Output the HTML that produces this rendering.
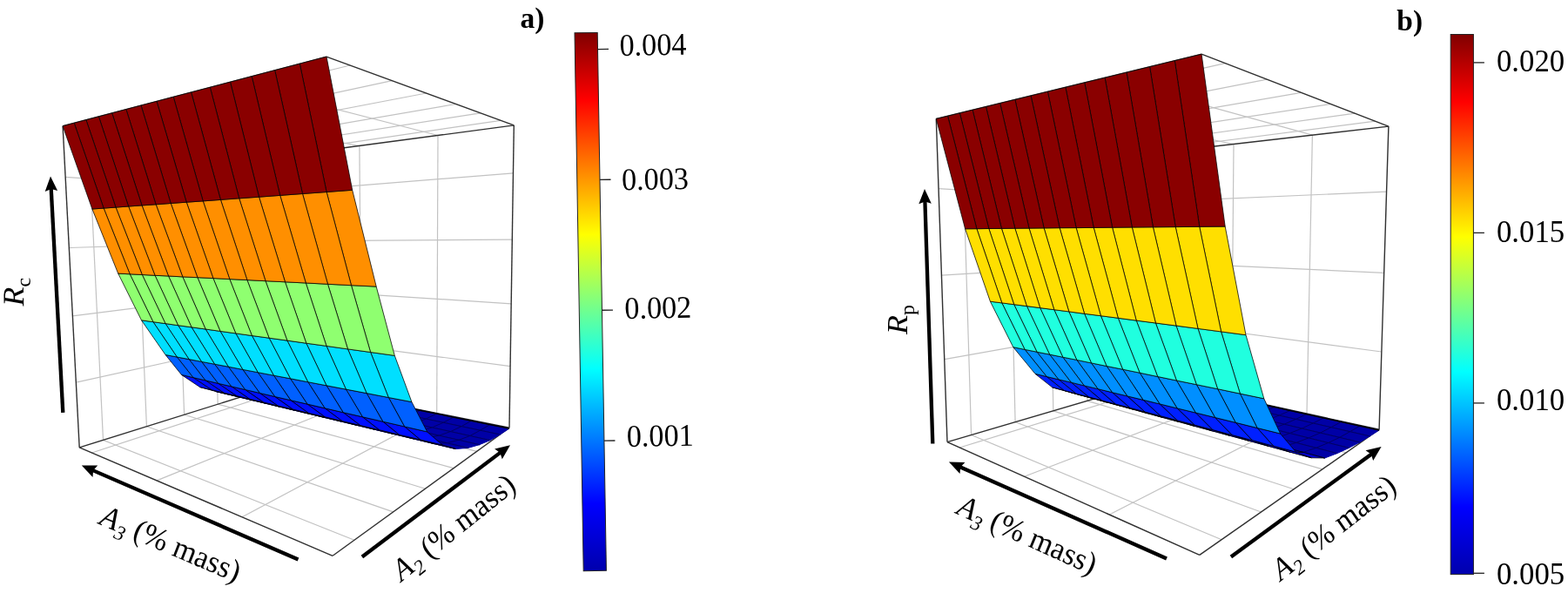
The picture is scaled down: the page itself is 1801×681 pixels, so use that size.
<!DOCTYPE html>
<html><head><meta charset="utf-8"><title>Figure</title>
<style>
html,body{margin:0;padding:0;background:#fff;}
body{width:1801px;height:681px;overflow:hidden;}
svg{display:block;font-family:"Liberation Serif",serif;fill:#000;}
</style></head><body>
<svg width="1801" height="681" viewBox="0 0 1801 681">
<rect width="1801" height="681" fill="#fff"/>
<g>
<line x1="278.1" y1="593.8" x2="501.7" y2="474.5" stroke="#c2c2c2" stroke-width="1.2" />
<line x1="180.0" y1="551.9" x2="415.1" y2="457.0" stroke="#c2c2c2" stroke-width="1.2" />
<line x1="105.4" y1="520.0" x2="343.1" y2="442.5" stroke="#c2c2c2" stroke-width="1.2" />
<line x1="407.0" y1="620.2" x2="118.5" y2="505.4" stroke="#c2c2c2" stroke-width="1.2" />
<line x1="451.6" y1="587.9" x2="168.4" y2="489.8" stroke="#c2c2c2" stroke-width="1.2" />
<line x1="488.5" y1="561.2" x2="211.6" y2="476.3" stroke="#c2c2c2" stroke-width="1.2" />
<line x1="520.9" y1="537.7" x2="250.2" y2="464.2" stroke="#c2c2c2" stroke-width="1.2" />
<line x1="547.7" y1="518.3" x2="284.4" y2="453.5" stroke="#c2c2c2" stroke-width="1.2" />
<line x1="570.1" y1="502.0" x2="315.0" y2="443.9" stroke="#c2c2c2" stroke-width="1.2" />
<line x1="264.7" y1="94.1" x2="503.0" y2="155.5" stroke="#c2c2c2" stroke-width="1.2" />
<line x1="162.7" y1="120.9" x2="412.9" y2="167.5" stroke="#c2c2c2" stroke-width="1.2" />
<line x1="86.4" y1="141.0" x2="338.5" y2="177.4" stroke="#c2c2c2" stroke-width="1.2" />
<line x1="402.1" y1="75.0" x2="101.3" y2="148.8" stroke="#c2c2c2" stroke-width="1.2" />
<line x1="450.3" y1="92.7" x2="154.6" y2="156.1" stroke="#c2c2c2" stroke-width="1.2" />
<line x1="489.5" y1="107.0" x2="200.5" y2="162.4" stroke="#c2c2c2" stroke-width="1.2" />
<line x1="523.7" y1="119.5" x2="241.3" y2="168.0" stroke="#c2c2c2" stroke-width="1.2" />
<line x1="551.7" y1="129.8" x2="277.3" y2="173.0" stroke="#c2c2c2" stroke-width="1.2" />
<line x1="575.0" y1="138.3" x2="309.4" y2="177.4" stroke="#c2c2c2" stroke-width="1.2" />
<line x1="118.5" y1="505.4" x2="101.3" y2="148.8" stroke="#c2c2c2" stroke-width="1.2" />
<line x1="168.4" y1="489.8" x2="154.6" y2="156.1" stroke="#c2c2c2" stroke-width="1.2" />
<line x1="211.6" y1="476.3" x2="200.5" y2="162.4" stroke="#c2c2c2" stroke-width="1.2" />
<line x1="250.2" y1="464.2" x2="241.3" y2="168.0" stroke="#c2c2c2" stroke-width="1.2" />
<line x1="284.4" y1="453.5" x2="277.3" y2="173.0" stroke="#c2c2c2" stroke-width="1.2" />
<line x1="315.0" y1="443.9" x2="309.4" y2="177.4" stroke="#c2c2c2" stroke-width="1.2" />
<line x1="87.4" y1="439.1" x2="327.8" y2="386.2" stroke="#c2c2c2" stroke-width="1.2" />
<line x1="83.4" y1="362.8" x2="326.7" y2="332.1" stroke="#c2c2c2" stroke-width="1.2" />
<line x1="79.3" y1="284.5" x2="325.7" y2="276.9" stroke="#c2c2c2" stroke-width="1.2" />
<line x1="75.1" y1="203.3" x2="324.6" y2="220.1" stroke="#c2c2c2" stroke-width="1.2" />
<line x1="501.7" y1="474.5" x2="503.0" y2="155.5" stroke="#c2c2c2" stroke-width="1.2" />
<line x1="415.1" y1="457.0" x2="412.9" y2="167.5" stroke="#c2c2c2" stroke-width="1.2" />
<line x1="343.1" y1="442.5" x2="338.5" y2="177.4" stroke="#c2c2c2" stroke-width="1.2" />
<line x1="586.1" y1="420.7" x2="327.8" y2="386.2" stroke="#c2c2c2" stroke-width="1.2" />
<line x1="587.2" y1="348.8" x2="326.7" y2="332.1" stroke="#c2c2c2" stroke-width="1.2" />
<line x1="588.3" y1="275.2" x2="325.7" y2="276.9" stroke="#c2c2c2" stroke-width="1.2" />
<line x1="589.5" y1="198.8" x2="324.6" y2="220.1" stroke="#c2c2c2" stroke-width="1.2" />
<line x1="382.1" y1="638.3" x2="91.2" y2="513.9" stroke="#303030" stroke-width="1.4" />
<line x1="382.1" y1="638.3" x2="585.0" y2="491.3" stroke="#303030" stroke-width="1.4" />
<line x1="91.2" y1="513.9" x2="328.8" y2="439.6" stroke="#303030" stroke-width="1.4" />
<line x1="585.0" y1="491.3" x2="328.8" y2="439.6" stroke="#303030" stroke-width="1.4" />
<line x1="375.0" y1="65.1" x2="72.1" y2="144.8" stroke="#303030" stroke-width="1.4" />
<line x1="375.0" y1="65.1" x2="590.3" y2="143.9" stroke="#303030" stroke-width="1.4" />
<line x1="72.1" y1="144.8" x2="323.8" y2="179.3" stroke="#303030" stroke-width="1.4" />
<line x1="590.3" y1="143.9" x2="323.8" y2="179.3" stroke="#303030" stroke-width="1.4" />
<line x1="91.2" y1="513.9" x2="72.1" y2="144.8" stroke="#303030" stroke-width="1.4" />
<line x1="585.0" y1="491.3" x2="590.3" y2="143.9" stroke="#303030" stroke-width="1.4" />
<line x1="328.8" y1="439.6" x2="323.8" y2="179.3" stroke="#303030" stroke-width="1.4" />
<polygon points="574.3,499.0 314.4,444.1 328.8,440.1 585.0,492.0" fill="#0000a6" stroke="#0000a6" stroke-width="1" stroke-linejoin="round"/>
<path d="M551.6,494.2 L562.8,487.5 M529.9,489.7 L541.5,483.2 M509.1,485.3 L521.1,479.0 M489.2,481.0 L501.5,475.1 M470.0,477.0 L482.7,471.3 M451.7,473.1 L464.6,467.6 M434.0,469.4 L447.3,464.1 M417.1,465.8 L430.5,460.7 M400.8,462.3 L414.4,457.4 M385.0,459.0 L398.8,454.3 M369.9,455.8 L383.8,451.2 M355.3,452.7 L369.4,448.3 M341.2,449.7 L355.4,445.5 M327.6,446.9 L341.9,442.7 M314.4,444.1 L328.8,440.1 M574.3,499.0 L314.4,444.1 M585.0,492.0 L328.8,440.1" fill="none" stroke="#00005c" stroke-width="0.9"/>
<line x1="585.0" y1="492.0" x2="438.8" y2="462.4" stroke="#000" stroke-width="1.5" />
<polygon points="562.9,505.6 299.3,447.5 314.4,444.1 574.3,499.0" fill="#0000a6" stroke="#0000a6" stroke-width="1" stroke-linejoin="round"/>
<path d="M539.7,500.5 L551.6,494.2 M517.5,495.6 L529.9,489.7 M496.3,490.9 L509.1,485.3 M476.0,486.4 L489.2,481.0 M456.6,482.1 L470.0,477.0 M437.9,478.0 L451.7,473.1 M420.1,474.1 L434.0,469.4 M402.9,470.3 L417.1,465.8 M386.4,466.7 L400.8,462.3 M370.5,463.2 L385.0,459.0 M355.2,459.8 L369.9,455.8 M340.4,456.6 L355.3,452.7 M326.2,453.4 L341.2,449.7 M312.5,450.4 L327.6,446.9 M299.3,447.5 L314.4,444.1 M562.9,505.6 L299.3,447.5 M574.3,499.0 L314.4,444.1" fill="none" stroke="#00005c" stroke-width="0.9"/>
<polygon points="550.6,510.7 283.3,449.7 299.3,447.5 562.9,505.6" fill="#0000a6" stroke="#0000a6" stroke-width="1" stroke-linejoin="round"/>
<path d="M526.9,505.3 L539.7,500.5 M504.3,500.1 L517.5,495.6 M482.7,495.2 L496.3,490.9 M462.0,490.5 L476.0,486.4 M442.2,486.0 L456.6,482.1 M423.3,481.7 L437.9,478.0 M405.2,477.5 L420.1,474.1 M387.8,473.6 L402.9,470.3 M371.1,469.7 L386.4,466.7 M355.0,466.1 L370.5,463.2 M339.6,462.6 L355.2,459.8 M324.7,459.2 L340.4,456.6 M310.4,455.9 L326.2,453.4 M296.6,452.8 L312.5,450.4 M283.3,449.7 L299.3,447.5 M550.6,510.7 L283.3,449.7 M562.9,505.6 L299.3,447.5" fill="none" stroke="#00005c" stroke-width="0.9"/>
<polygon points="537.5,514.4 266.4,450.7 283.3,449.7 550.6,510.7" fill="#0000a6" stroke="#0000a6" stroke-width="1" stroke-linejoin="round"/>
<path d="M513.2,508.7 L526.9,505.3 M490.1,503.2 L504.3,500.1 M468.1,498.0 L482.7,495.2 M447.0,493.1 L462.0,490.5 M426.9,488.4 L442.2,486.0 M407.7,483.9 L423.3,481.7 M389.3,479.5 L405.2,477.5 M371.7,475.4 L387.8,473.6 M354.8,471.4 L371.1,469.7 M338.6,467.6 L355.0,466.1 M323.0,464.0 L339.6,462.6 M308.1,460.5 L324.7,459.2 M293.7,457.1 L310.4,455.9 M279.8,453.8 L296.6,452.8 M266.4,450.7 L283.3,449.7 M537.5,514.4 L266.4,450.7 M550.6,510.7 L283.3,449.7" fill="none" stroke="#00005c" stroke-width="0.9"/>
<polygon points="523.4,515.5 248.5,449.7 266.4,450.7 537.5,514.4" fill="#0000a6" stroke="#0000a6" stroke-width="1" stroke-linejoin="round"/>
<path d="M498.5,509.6 L513.2,508.7 M474.9,503.9 L490.1,503.2 M452.4,498.5 L468.1,498.0 M431.0,493.4 L447.0,493.1 M410.5,488.5 L426.9,488.4 M391.0,483.8 L407.7,483.9 M372.4,479.4 L389.3,479.5 M354.6,475.1 L371.7,475.4 M337.5,471.0 L354.8,471.4 M321.1,467.1 L338.6,467.6 M305.4,463.3 L323.0,464.0 M290.4,459.7 L308.1,460.5 M275.9,456.2 L293.7,457.1 M262.0,452.9 L279.8,453.8 M248.5,449.7 L266.4,450.7 M523.4,515.5 L248.5,449.7 M537.5,514.4 L266.4,450.7" fill="none" stroke="#00005c" stroke-width="0.9"/>
<polygon points="508.1,511.0 482.6,504.9 498.5,509.6 523.4,515.5" fill="#0000df" stroke="#000" stroke-opacity="0.85" stroke-width="0.9" stroke-linejoin="round"/>
<polygon points="482.6,504.9 458.4,499.2 474.9,503.9 498.5,509.6" fill="#0000df" stroke="#000" stroke-opacity="0.85" stroke-width="0.9" stroke-linejoin="round"/>
<polygon points="458.4,499.2 435.5,493.7 452.4,498.5 474.9,503.9" fill="#0000df" stroke="#000" stroke-opacity="0.85" stroke-width="0.9" stroke-linejoin="round"/>
<polygon points="435.5,493.7 413.7,488.5 431.0,493.4 452.4,498.5" fill="#0000df" stroke="#000" stroke-opacity="0.85" stroke-width="0.9" stroke-linejoin="round"/>
<polygon points="413.7,488.5 392.9,483.5 410.5,488.5 431.0,493.4" fill="#0000df" stroke="#000" stroke-opacity="0.85" stroke-width="0.9" stroke-linejoin="round"/>
<polygon points="392.9,483.5 373.1,478.8 391.0,483.8 410.5,488.5" fill="#0000df" stroke="#000" stroke-opacity="0.85" stroke-width="0.9" stroke-linejoin="round"/>
<polygon points="373.1,478.8 354.2,474.3 372.4,479.4 391.0,483.8" fill="#0000df" stroke="#000" stroke-opacity="0.85" stroke-width="0.9" stroke-linejoin="round"/>
<polygon points="354.2,474.3 336.2,470.0 354.6,475.1 372.4,479.4" fill="#0000df" stroke="#000" stroke-opacity="0.85" stroke-width="0.9" stroke-linejoin="round"/>
<polygon points="336.2,470.0 318.9,465.9 337.5,471.0 354.6,475.1" fill="#0000df" stroke="#000" stroke-opacity="0.85" stroke-width="0.9" stroke-linejoin="round"/>
<polygon points="318.9,465.9 302.4,461.9 321.1,467.1 337.5,471.0" fill="#0000df" stroke="#000" stroke-opacity="0.85" stroke-width="0.9" stroke-linejoin="round"/>
<polygon points="302.4,461.9 286.6,458.2 305.4,463.3 321.1,467.1" fill="#0000df" stroke="#000" stroke-opacity="0.85" stroke-width="0.9" stroke-linejoin="round"/>
<polygon points="286.6,458.2 271.4,454.5 290.4,459.7 305.4,463.3" fill="#0000df" stroke="#000" stroke-opacity="0.85" stroke-width="0.9" stroke-linejoin="round"/>
<polygon points="271.4,454.5 256.9,451.1 275.9,456.2 290.4,459.7" fill="#0000df" stroke="#000" stroke-opacity="0.85" stroke-width="0.9" stroke-linejoin="round"/>
<polygon points="256.9,451.1 242.9,447.7 262.0,452.9 275.9,456.2" fill="#0000df" stroke="#000" stroke-opacity="0.85" stroke-width="0.9" stroke-linejoin="round"/>
<polygon points="242.9,447.7 229.5,444.5 248.5,449.7 262.0,452.9" fill="#0000df" stroke="#000" stroke-opacity="0.85" stroke-width="0.9" stroke-linejoin="round"/>
<polygon points="490.7,495.9 464.6,489.9 482.6,504.9 508.1,511.0" fill="#0010ff" stroke="#000" stroke-opacity="0.85" stroke-width="0.9" stroke-linejoin="round"/>
<polygon points="464.6,489.9 439.8,484.2 458.4,499.2 482.6,504.9" fill="#0010ff" stroke="#000" stroke-opacity="0.85" stroke-width="0.9" stroke-linejoin="round"/>
<polygon points="439.8,484.2 416.4,478.8 435.5,493.7 458.4,499.2" fill="#0010ff" stroke="#000" stroke-opacity="0.85" stroke-width="0.9" stroke-linejoin="round"/>
<polygon points="416.4,478.8 394.2,473.7 413.7,488.5 435.5,493.7" fill="#0010ff" stroke="#000" stroke-opacity="0.85" stroke-width="0.9" stroke-linejoin="round"/>
<polygon points="394.2,473.7 373.1,468.8 392.9,483.5 413.7,488.5" fill="#0010ff" stroke="#000" stroke-opacity="0.85" stroke-width="0.9" stroke-linejoin="round"/>
<polygon points="373.1,468.8 353.0,464.1 373.1,478.8 392.9,483.5" fill="#0010ff" stroke="#000" stroke-opacity="0.85" stroke-width="0.9" stroke-linejoin="round"/>
<polygon points="353.0,464.1 333.9,459.7 354.2,474.3 373.1,478.8" fill="#0010ff" stroke="#000" stroke-opacity="0.85" stroke-width="0.9" stroke-linejoin="round"/>
<polygon points="333.9,459.7 315.7,455.5 336.2,470.0 354.2,474.3" fill="#0010ff" stroke="#000" stroke-opacity="0.85" stroke-width="0.9" stroke-linejoin="round"/>
<polygon points="315.7,455.5 298.3,451.4 318.9,465.9 336.2,470.0" fill="#0010ff" stroke="#000" stroke-opacity="0.85" stroke-width="0.9" stroke-linejoin="round"/>
<polygon points="298.3,451.4 281.6,447.5 302.4,461.9 318.9,465.9" fill="#0010ff" stroke="#000" stroke-opacity="0.85" stroke-width="0.9" stroke-linejoin="round"/>
<polygon points="281.6,447.5 265.7,443.8 286.6,458.2 302.4,461.9" fill="#0010ff" stroke="#000" stroke-opacity="0.85" stroke-width="0.9" stroke-linejoin="round"/>
<polygon points="265.7,443.8 250.5,440.3 271.4,454.5 286.6,458.2" fill="#0010ff" stroke="#000" stroke-opacity="0.85" stroke-width="0.9" stroke-linejoin="round"/>
<polygon points="250.5,440.3 235.9,436.8 256.9,451.1 271.4,454.5" fill="#0010ff" stroke="#000" stroke-opacity="0.85" stroke-width="0.9" stroke-linejoin="round"/>
<polygon points="235.9,436.8 221.9,433.6 242.9,447.7 256.9,451.1" fill="#0010ff" stroke="#000" stroke-opacity="0.85" stroke-width="0.9" stroke-linejoin="round"/>
<polygon points="221.9,433.6 208.5,430.4 229.5,444.5 242.9,447.7" fill="#0010ff" stroke="#000" stroke-opacity="0.85" stroke-width="0.9" stroke-linejoin="round"/>
<polygon points="472.9,461.6 446.3,456.5 464.6,489.9 490.7,495.9" fill="#0060ff" stroke="#000" stroke-opacity="0.85" stroke-width="0.9" stroke-linejoin="round"/>
<polygon points="446.3,456.5 421.1,451.6 439.8,484.2 464.6,489.9" fill="#0060ff" stroke="#000" stroke-opacity="0.85" stroke-width="0.9" stroke-linejoin="round"/>
<polygon points="421.1,451.6 397.4,447.1 416.4,478.8 439.8,484.2" fill="#0060ff" stroke="#000" stroke-opacity="0.85" stroke-width="0.9" stroke-linejoin="round"/>
<polygon points="397.4,447.1 375.0,442.8 394.2,473.7 416.4,478.8" fill="#0060ff" stroke="#000" stroke-opacity="0.85" stroke-width="0.9" stroke-linejoin="round"/>
<polygon points="375.0,442.8 353.7,438.7 373.1,468.8 394.2,473.7" fill="#0060ff" stroke="#000" stroke-opacity="0.85" stroke-width="0.9" stroke-linejoin="round"/>
<polygon points="353.7,438.7 333.5,434.8 353.0,464.1 373.1,468.8" fill="#0060ff" stroke="#000" stroke-opacity="0.85" stroke-width="0.9" stroke-linejoin="round"/>
<polygon points="333.5,434.8 314.4,431.2 333.9,459.7 353.0,464.1" fill="#0060ff" stroke="#000" stroke-opacity="0.85" stroke-width="0.9" stroke-linejoin="round"/>
<polygon points="314.4,431.2 296.2,427.7 315.7,455.5 333.9,459.7" fill="#0060ff" stroke="#000" stroke-opacity="0.85" stroke-width="0.9" stroke-linejoin="round"/>
<polygon points="296.2,427.7 278.8,424.4 298.3,451.4 315.7,455.5" fill="#0060ff" stroke="#000" stroke-opacity="0.85" stroke-width="0.9" stroke-linejoin="round"/>
<polygon points="278.8,424.4 262.3,421.2 281.6,447.5 298.3,451.4" fill="#0060ff" stroke="#000" stroke-opacity="0.85" stroke-width="0.9" stroke-linejoin="round"/>
<polygon points="262.3,421.2 246.5,418.2 265.7,443.8 281.6,447.5" fill="#0060ff" stroke="#000" stroke-opacity="0.85" stroke-width="0.9" stroke-linejoin="round"/>
<polygon points="246.5,418.2 231.5,415.4 250.5,440.3 265.7,443.8" fill="#0060ff" stroke="#000" stroke-opacity="0.85" stroke-width="0.9" stroke-linejoin="round"/>
<polygon points="231.5,415.4 217.1,412.6 235.9,436.8 250.5,440.3" fill="#0060ff" stroke="#000" stroke-opacity="0.85" stroke-width="0.9" stroke-linejoin="round"/>
<polygon points="217.1,412.6 203.3,410.0 221.9,433.6 235.9,436.8" fill="#0060ff" stroke="#000" stroke-opacity="0.85" stroke-width="0.9" stroke-linejoin="round"/>
<polygon points="203.3,410.0 190.1,407.5 208.5,430.4 221.9,433.6" fill="#0060ff" stroke="#000" stroke-opacity="0.85" stroke-width="0.9" stroke-linejoin="round"/>
<polygon points="453.3,408.4 425.6,404.5 446.3,456.5 472.9,461.6" fill="#00dfff" stroke="#000" stroke-opacity="0.85" stroke-width="0.9" stroke-linejoin="round"/>
<polygon points="425.6,404.5 399.5,400.9 421.1,451.6 446.3,456.5" fill="#00dfff" stroke="#000" stroke-opacity="0.85" stroke-width="0.9" stroke-linejoin="round"/>
<polygon points="399.5,400.9 375.0,397.4 397.4,447.1 421.1,451.6" fill="#00dfff" stroke="#000" stroke-opacity="0.85" stroke-width="0.9" stroke-linejoin="round"/>
<polygon points="375.0,397.4 351.8,394.2 375.0,442.8 397.4,447.1" fill="#00dfff" stroke="#000" stroke-opacity="0.85" stroke-width="0.9" stroke-linejoin="round"/>
<polygon points="351.8,394.2 329.9,391.1 353.7,438.7 375.0,442.8" fill="#00dfff" stroke="#000" stroke-opacity="0.85" stroke-width="0.9" stroke-linejoin="round"/>
<polygon points="329.9,391.1 309.1,388.2 333.5,434.8 353.7,438.7" fill="#00dfff" stroke="#000" stroke-opacity="0.85" stroke-width="0.9" stroke-linejoin="round"/>
<polygon points="309.1,388.2 289.4,385.5 314.4,431.2 333.5,434.8" fill="#00dfff" stroke="#000" stroke-opacity="0.85" stroke-width="0.9" stroke-linejoin="round"/>
<polygon points="289.4,385.5 270.8,382.9 296.2,427.7 314.4,431.2" fill="#00dfff" stroke="#000" stroke-opacity="0.85" stroke-width="0.9" stroke-linejoin="round"/>
<polygon points="270.8,382.9 253.0,380.4 278.8,424.4 296.2,427.7" fill="#00dfff" stroke="#000" stroke-opacity="0.85" stroke-width="0.9" stroke-linejoin="round"/>
<polygon points="253.0,380.4 236.1,378.0 262.3,421.2 278.8,424.4" fill="#00dfff" stroke="#000" stroke-opacity="0.85" stroke-width="0.9" stroke-linejoin="round"/>
<polygon points="236.1,378.0 220.0,375.8 246.5,418.2 262.3,421.2" fill="#00dfff" stroke="#000" stroke-opacity="0.85" stroke-width="0.9" stroke-linejoin="round"/>
<polygon points="220.0,375.8 204.6,373.7 231.5,415.4 246.5,418.2" fill="#00dfff" stroke="#000" stroke-opacity="0.85" stroke-width="0.9" stroke-linejoin="round"/>
<polygon points="204.6,373.7 190.0,371.6 217.1,412.6 231.5,415.4" fill="#00dfff" stroke="#000" stroke-opacity="0.85" stroke-width="0.9" stroke-linejoin="round"/>
<polygon points="190.0,371.6 175.9,369.7 203.3,410.0 217.1,412.6" fill="#00dfff" stroke="#000" stroke-opacity="0.85" stroke-width="0.9" stroke-linejoin="round"/>
<polygon points="175.9,369.7 162.5,367.8 190.1,407.5 203.3,410.0" fill="#00dfff" stroke="#000" stroke-opacity="0.85" stroke-width="0.9" stroke-linejoin="round"/>
<polygon points="432.2,329.1 403.5,327.7 425.6,404.5 453.3,408.4" fill="#8fff70" stroke="#000" stroke-opacity="0.85" stroke-width="0.9" stroke-linejoin="round"/>
<polygon points="403.5,327.7 376.5,326.3 399.5,400.9 425.6,404.5" fill="#8fff70" stroke="#000" stroke-opacity="0.85" stroke-width="0.9" stroke-linejoin="round"/>
<polygon points="376.5,326.3 351.3,325.0 375.0,397.4 399.5,400.9" fill="#8fff70" stroke="#000" stroke-opacity="0.85" stroke-width="0.9" stroke-linejoin="round"/>
<polygon points="351.3,325.0 327.5,323.8 351.8,394.2 375.0,397.4" fill="#8fff70" stroke="#000" stroke-opacity="0.85" stroke-width="0.9" stroke-linejoin="round"/>
<polygon points="327.5,323.8 305.0,322.7 329.9,391.1 351.8,394.2" fill="#8fff70" stroke="#000" stroke-opacity="0.85" stroke-width="0.9" stroke-linejoin="round"/>
<polygon points="305.0,322.7 283.9,321.6 309.1,388.2 329.9,391.1" fill="#8fff70" stroke="#000" stroke-opacity="0.85" stroke-width="0.9" stroke-linejoin="round"/>
<polygon points="283.9,321.6 263.8,320.6 289.4,385.5 309.1,388.2" fill="#8fff70" stroke="#000" stroke-opacity="0.85" stroke-width="0.9" stroke-linejoin="round"/>
<polygon points="263.8,320.6 244.9,319.6 270.8,382.9 289.4,385.5" fill="#8fff70" stroke="#000" stroke-opacity="0.85" stroke-width="0.9" stroke-linejoin="round"/>
<polygon points="244.9,319.6 226.9,318.7 253.0,380.4 270.8,382.9" fill="#8fff70" stroke="#000" stroke-opacity="0.85" stroke-width="0.9" stroke-linejoin="round"/>
<polygon points="226.9,318.7 209.8,317.9 236.1,378.0 253.0,380.4" fill="#8fff70" stroke="#000" stroke-opacity="0.85" stroke-width="0.9" stroke-linejoin="round"/>
<polygon points="209.8,317.9 193.5,317.0 220.0,375.8 236.1,378.0" fill="#8fff70" stroke="#000" stroke-opacity="0.85" stroke-width="0.9" stroke-linejoin="round"/>
<polygon points="193.5,317.0 178.0,316.3 204.6,373.7 220.0,375.8" fill="#8fff70" stroke="#000" stroke-opacity="0.85" stroke-width="0.9" stroke-linejoin="round"/>
<polygon points="178.0,316.3 163.3,315.5 190.0,371.6 204.6,373.7" fill="#8fff70" stroke="#000" stroke-opacity="0.85" stroke-width="0.9" stroke-linejoin="round"/>
<polygon points="163.3,315.5 149.2,314.8 175.9,369.7 190.0,371.6" fill="#8fff70" stroke="#000" stroke-opacity="0.85" stroke-width="0.9" stroke-linejoin="round"/>
<polygon points="149.2,314.8 135.7,314.1 162.5,367.8 175.9,369.7" fill="#8fff70" stroke="#000" stroke-opacity="0.85" stroke-width="0.9" stroke-linejoin="round"/>
<polygon points="404.7,218.3 375.1,220.5 403.5,327.7 432.2,329.1" fill="#ff8f00" stroke="#000" stroke-opacity="0.85" stroke-width="0.9" stroke-linejoin="round"/>
<polygon points="375.1,220.5 347.5,222.5 376.5,326.3 403.5,327.7" fill="#ff8f00" stroke="#000" stroke-opacity="0.85" stroke-width="0.9" stroke-linejoin="round"/>
<polygon points="347.5,222.5 321.7,224.4 351.3,325.0 376.5,326.3" fill="#ff8f00" stroke="#000" stroke-opacity="0.85" stroke-width="0.9" stroke-linejoin="round"/>
<polygon points="321.7,224.4 297.5,226.2 327.5,323.8 351.3,325.0" fill="#ff8f00" stroke="#000" stroke-opacity="0.85" stroke-width="0.9" stroke-linejoin="round"/>
<polygon points="297.5,226.2 274.7,227.8 305.0,322.7 327.5,323.8" fill="#ff8f00" stroke="#000" stroke-opacity="0.85" stroke-width="0.9" stroke-linejoin="round"/>
<polygon points="274.7,227.8 253.4,229.4 283.9,321.6 305.0,322.7" fill="#ff8f00" stroke="#000" stroke-opacity="0.85" stroke-width="0.9" stroke-linejoin="round"/>
<polygon points="253.4,229.4 233.2,230.9 263.8,320.6 283.9,321.6" fill="#ff8f00" stroke="#000" stroke-opacity="0.85" stroke-width="0.9" stroke-linejoin="round"/>
<polygon points="233.2,230.9 214.2,232.2 244.9,319.6 263.8,320.6" fill="#ff8f00" stroke="#000" stroke-opacity="0.85" stroke-width="0.9" stroke-linejoin="round"/>
<polygon points="214.2,232.2 196.2,233.5 226.9,318.7 244.9,319.6" fill="#ff8f00" stroke="#000" stroke-opacity="0.85" stroke-width="0.9" stroke-linejoin="round"/>
<polygon points="196.2,233.5 179.1,234.8 209.8,317.9 226.9,318.7" fill="#ff8f00" stroke="#000" stroke-opacity="0.85" stroke-width="0.9" stroke-linejoin="round"/>
<polygon points="179.1,234.8 163.0,235.9 193.5,317.0 209.8,317.9" fill="#ff8f00" stroke="#000" stroke-opacity="0.85" stroke-width="0.9" stroke-linejoin="round"/>
<polygon points="163.0,235.9 147.6,237.0 178.0,316.3 193.5,317.0" fill="#ff8f00" stroke="#000" stroke-opacity="0.85" stroke-width="0.9" stroke-linejoin="round"/>
<polygon points="147.6,237.0 133.0,238.1 163.3,315.5 178.0,316.3" fill="#ff8f00" stroke="#000" stroke-opacity="0.85" stroke-width="0.9" stroke-linejoin="round"/>
<polygon points="133.0,238.1 119.1,239.1 149.2,314.8 163.3,315.5" fill="#ff8f00" stroke="#000" stroke-opacity="0.85" stroke-width="0.9" stroke-linejoin="round"/>
<polygon points="119.1,239.1 105.9,240.0 135.7,314.1 149.2,314.8" fill="#ff8f00" stroke="#000" stroke-opacity="0.85" stroke-width="0.9" stroke-linejoin="round"/>
<polygon points="375.0,65.1 344.3,73.2 375.1,220.5 404.7,218.3" fill="#8a0000" stroke="#000" stroke-opacity="0.85" stroke-width="0.9" stroke-linejoin="round"/>
<polygon points="344.3,73.2 315.7,80.7 347.5,222.5 375.1,220.5" fill="#8a0000" stroke="#000" stroke-opacity="0.85" stroke-width="0.9" stroke-linejoin="round"/>
<polygon points="315.7,80.7 289.2,87.7 321.7,224.4 347.5,222.5" fill="#8a0000" stroke="#000" stroke-opacity="0.85" stroke-width="0.9" stroke-linejoin="round"/>
<polygon points="289.2,87.7 264.5,94.2 297.5,226.2 321.7,224.4" fill="#8a0000" stroke="#000" stroke-opacity="0.85" stroke-width="0.9" stroke-linejoin="round"/>
<polygon points="264.5,94.2 241.3,100.3 274.7,227.8 297.5,226.2" fill="#8a0000" stroke="#000" stroke-opacity="0.85" stroke-width="0.9" stroke-linejoin="round"/>
<polygon points="241.3,100.3 219.6,106.0 253.4,229.4 274.7,227.8" fill="#8a0000" stroke="#000" stroke-opacity="0.85" stroke-width="0.9" stroke-linejoin="round"/>
<polygon points="219.6,106.0 199.2,111.3 233.2,230.9 253.4,229.4" fill="#8a0000" stroke="#000" stroke-opacity="0.85" stroke-width="0.9" stroke-linejoin="round"/>
<polygon points="199.2,111.3 180.0,116.4 214.2,232.2 233.2,230.9" fill="#8a0000" stroke="#000" stroke-opacity="0.85" stroke-width="0.9" stroke-linejoin="round"/>
<polygon points="180.0,116.4 162.0,121.1 196.2,233.5 214.2,232.2" fill="#8a0000" stroke="#000" stroke-opacity="0.85" stroke-width="0.9" stroke-linejoin="round"/>
<polygon points="162.0,121.1 144.9,125.6 179.1,234.8 196.2,233.5" fill="#8a0000" stroke="#000" stroke-opacity="0.85" stroke-width="0.9" stroke-linejoin="round"/>
<polygon points="144.9,125.6 128.7,129.9 163.0,235.9 179.1,234.8" fill="#8a0000" stroke="#000" stroke-opacity="0.85" stroke-width="0.9" stroke-linejoin="round"/>
<polygon points="128.7,129.9 113.4,133.9 147.6,237.0 163.0,235.9" fill="#8a0000" stroke="#000" stroke-opacity="0.85" stroke-width="0.9" stroke-linejoin="round"/>
<polygon points="113.4,133.9 98.9,137.7 133.0,238.1 147.6,237.0" fill="#8a0000" stroke="#000" stroke-opacity="0.85" stroke-width="0.9" stroke-linejoin="round"/>
<polygon points="98.9,137.7 85.2,141.3 119.1,239.1 133.0,238.1" fill="#8a0000" stroke="#000" stroke-opacity="0.85" stroke-width="0.9" stroke-linejoin="round"/>
<polygon points="85.2,141.3 72.1,144.8 105.9,240.0 119.1,239.1" fill="#8a0000" stroke="#000" stroke-opacity="0.85" stroke-width="0.9" stroke-linejoin="round"/>
</g>
<g transform="rotate(-0.945) translate(-1006.5 8.5)">
<linearGradient id="cbL" x1="0" y1="1" x2="0" y2="0">
<stop offset="0.000" stop-color="#0000ad"/>
<stop offset="0.125" stop-color="#0000ff"/>
<stop offset="0.375" stop-color="#00ffff"/>
<stop offset="0.625" stop-color="#ffff00"/>
<stop offset="0.875" stop-color="#ff0000"/>
<stop offset="1.000" stop-color="#800000"/>
</linearGradient>
<rect x="1665.8" y="40.2" width="26.2" height="618.0" fill="url(#cbL)" stroke="#222" stroke-width="1"/>
<line x1="1692.0" y1="59.4" x2="1704.5" y2="59.4" stroke="#222" stroke-width="1.3" />
<text transform="translate(1717.0 67.2) scale(0.95 1)" font-size="36">0.004</text>
<line x1="1692.0" y1="209.3" x2="1704.5" y2="209.3" stroke="#222" stroke-width="1.3" />
<text transform="translate(1717.0 221.5) scale(0.95 1)" font-size="36">0.003</text>
<line x1="1692.0" y1="359.1" x2="1704.5" y2="359.1" stroke="#222" stroke-width="1.3" />
<text transform="translate(1717.9 369.2) scale(0.95 1)" font-size="36">0.002</text>
<line x1="1692.0" y1="509.1" x2="1704.5" y2="509.1" stroke="#222" stroke-width="1.3" />
<text transform="translate(1717.9 516.2) scale(0.95 1)" font-size="36">0.001</text>
</g>
<line x1="72.3" y1="473.8" x2="58.7" y2="216.5" stroke="#000" stroke-width="4.3" />
<polygon points="58.0,202.5 66.1,219.1 58.8,217.0 51.7,219.9" fill="#000"/>
<line x1="342.5" y1="642.5" x2="106.6" y2="540.1" stroke="#000" stroke-width="4.3" />
<polygon points="93.8,534.5 112.2,534.6 107.1,540.3 106.5,547.9" fill="#000"/>
<line x1="415.9" y1="639.5" x2="574.8" y2="519.6" stroke="#000" stroke-width="4.3" />
<polygon points="586.0,511.2 576.8,527.2 574.4,519.9 568.1,515.6" fill="#000"/>
<text transform="translate(27.3 351.5) scale(0.96 1) rotate(-90.90)" font-size="36"><tspan font-style="italic">R</tspan><tspan font-size="24" dy="8">c</tspan><tspan dy="-8"></tspan></text>
<text transform="translate(112.8 601.5) scale(0.96 1) rotate(22.30)" font-size="36"><tspan font-style="italic">A</tspan><tspan font-size="24" dy="8" font-style="italic">3</tspan><tspan dy="-8"> (% mass)</tspan></text>
<text transform="translate(461.0 668.5) scale(0.94 1) rotate(-37.10)" font-size="36"><tspan font-style="italic">A</tspan><tspan font-size="24" dy="8" font-style="italic">2</tspan><tspan dy="-8"> (% mass)</tspan></text>
<text x="597.6" y="31.9" font-size="33.5" font-weight="bold">a)</text>
<g>
<line x1="1274.2" y1="591.0" x2="1501.0" y2="475.0" stroke="#c2c2c2" stroke-width="1.2" />
<line x1="1176.5" y1="547.3" x2="1414.5" y2="456.0" stroke="#c2c2c2" stroke-width="1.2" />
<line x1="1102.2" y1="514.0" x2="1342.5" y2="440.2" stroke="#c2c2c2" stroke-width="1.2" />
<line x1="1403.2" y1="619.7" x2="1115.6" y2="499.5" stroke="#c2c2c2" stroke-width="1.2" />
<line x1="1448.5" y1="588.0" x2="1166.1" y2="484.7" stroke="#c2c2c2" stroke-width="1.2" />
<line x1="1486.0" y1="561.8" x2="1209.8" y2="471.9" stroke="#c2c2c2" stroke-width="1.2" />
<line x1="1519.0" y1="538.8" x2="1248.8" y2="460.4" stroke="#c2c2c2" stroke-width="1.2" />
<line x1="1546.2" y1="519.8" x2="1283.4" y2="450.2" stroke="#c2c2c2" stroke-width="1.2" />
<line x1="1569.1" y1="503.8" x2="1314.3" y2="441.1" stroke="#c2c2c2" stroke-width="1.2" />
<line x1="1269.3" y1="89.2" x2="1507.4" y2="155.1" stroke="#c2c2c2" stroke-width="1.2" />
<line x1="1166.7" y1="114.2" x2="1417.0" y2="165.5" stroke="#c2c2c2" stroke-width="1.2" />
<line x1="1089.8" y1="132.9" x2="1342.4" y2="174.1" stroke="#c2c2c2" stroke-width="1.2" />
<line x1="1407.2" y1="72.7" x2="1104.7" y2="141.0" stroke="#c2c2c2" stroke-width="1.2" />
<line x1="1455.2" y1="91.2" x2="1158.1" y2="149.4" stroke="#c2c2c2" stroke-width="1.2" />
<line x1="1494.4" y1="106.3" x2="1204.1" y2="156.5" stroke="#c2c2c2" stroke-width="1.2" />
<line x1="1528.5" y1="119.5" x2="1245.0" y2="162.9" stroke="#c2c2c2" stroke-width="1.2" />
<line x1="1556.4" y1="130.2" x2="1281.0" y2="168.5" stroke="#c2c2c2" stroke-width="1.2" />
<line x1="1579.7" y1="139.2" x2="1313.1" y2="173.5" stroke="#c2c2c2" stroke-width="1.2" />
<line x1="1115.6" y1="499.5" x2="1104.7" y2="141.0" stroke="#c2c2c2" stroke-width="1.2" />
<line x1="1166.1" y1="484.7" x2="1158.1" y2="149.4" stroke="#c2c2c2" stroke-width="1.2" />
<line x1="1209.8" y1="471.9" x2="1204.1" y2="156.5" stroke="#c2c2c2" stroke-width="1.2" />
<line x1="1248.8" y1="460.4" x2="1245.0" y2="162.9" stroke="#c2c2c2" stroke-width="1.2" />
<line x1="1283.4" y1="450.2" x2="1281.0" y2="168.5" stroke="#c2c2c2" stroke-width="1.2" />
<line x1="1314.3" y1="441.1" x2="1313.1" y2="173.5" stroke="#c2c2c2" stroke-width="1.2" />
<line x1="1084.8" y1="412.7" x2="1328.0" y2="369.5" stroke="#c2c2c2" stroke-width="1.2" />
<line x1="1081.5" y1="316.1" x2="1327.9" y2="301.3" stroke="#c2c2c2" stroke-width="1.2" />
<line x1="1078.1" y1="216.6" x2="1327.7" y2="231.6" stroke="#c2c2c2" stroke-width="1.2" />
<line x1="1501.0" y1="475.0" x2="1507.4" y2="155.1" stroke="#c2c2c2" stroke-width="1.2" />
<line x1="1414.5" y1="456.0" x2="1417.0" y2="165.5" stroke="#c2c2c2" stroke-width="1.2" />
<line x1="1342.5" y1="440.2" x2="1342.4" y2="174.1" stroke="#c2c2c2" stroke-width="1.2" />
<line x1="1586.9" y1="404.0" x2="1328.0" y2="369.5" stroke="#c2c2c2" stroke-width="1.2" />
<line x1="1589.7" y1="313.3" x2="1327.9" y2="301.3" stroke="#c2c2c2" stroke-width="1.2" />
<line x1="1592.6" y1="220.1" x2="1327.7" y2="231.6" stroke="#c2c2c2" stroke-width="1.2" />
<line x1="1377.8" y1="637.4" x2="1088.0" y2="507.6" stroke="#303030" stroke-width="1.4" />
<line x1="1377.8" y1="637.4" x2="1584.1" y2="493.3" stroke="#303030" stroke-width="1.4" />
<line x1="1088.0" y1="507.6" x2="1328.2" y2="437.1" stroke="#303030" stroke-width="1.4" />
<line x1="1584.1" y1="493.3" x2="1328.2" y2="437.1" stroke="#303030" stroke-width="1.4" />
<line x1="1380.1" y1="62.2" x2="1075.3" y2="136.5" stroke="#303030" stroke-width="1.4" />
<line x1="1380.1" y1="62.2" x2="1594.9" y2="145.1" stroke="#303030" stroke-width="1.4" />
<line x1="1075.3" y1="136.5" x2="1327.6" y2="175.8" stroke="#303030" stroke-width="1.4" />
<line x1="1594.9" y1="145.1" x2="1327.6" y2="175.8" stroke="#303030" stroke-width="1.4" />
<line x1="1088.0" y1="507.6" x2="1075.3" y2="136.5" stroke="#303030" stroke-width="1.4" />
<line x1="1584.1" y1="493.3" x2="1594.9" y2="145.1" stroke="#303030" stroke-width="1.4" />
<line x1="1328.2" y1="437.1" x2="1327.6" y2="175.8" stroke="#303030" stroke-width="1.4" />
<polygon points="1573.2,500.9 1313.7,441.3 1328.2,437.6 1584.1,494.0" fill="#0000a6" stroke="#0000a6" stroke-width="1" stroke-linejoin="round"/>
<path d="M1550.6,495.7 L1561.9,489.1 M1528.9,490.7 L1540.7,484.4 M1508.2,486.0 L1520.3,479.9 M1488.3,481.4 L1500.8,475.6 M1469.2,477.0 L1482.0,471.5 M1450.9,472.8 L1464.0,467.5 M1433.2,468.8 L1446.6,463.7 M1416.3,464.9 L1429.9,460.0 M1400.0,461.1 L1413.8,456.4 M1384.3,457.5 L1398.2,453.0 M1369.1,454.0 L1383.2,449.7 M1354.5,450.7 L1368.8,446.5 M1340.5,447.5 L1354.8,443.4 M1326.8,444.3 L1341.3,440.4 M1313.7,441.3 L1328.2,437.6 M1573.2,500.9 L1313.7,441.3 M1584.1,494.0 L1328.2,437.6" fill="none" stroke="#00005c" stroke-width="0.9"/>
<line x1="1584.1" y1="494.0" x2="1438.2" y2="461.8" stroke="#000" stroke-width="1.5" />
<polygon points="1561.7,507.9 1298.4,445.0 1313.7,441.3 1573.2,500.9" fill="#0000a6" stroke="#0000a6" stroke-width="1" stroke-linejoin="round"/>
<path d="M1538.5,502.4 L1550.6,495.7 M1516.4,497.1 L1528.9,490.7 M1495.2,492.1 L1508.2,486.0 M1475.0,487.2 L1488.3,481.4 M1455.6,482.6 L1469.2,477.0 M1437.0,478.1 L1450.9,472.8 M1419.1,473.9 L1433.2,468.8 M1401.9,469.8 L1416.3,464.9 M1385.4,465.8 L1400.0,461.1 M1369.6,462.0 L1384.3,457.5 M1354.3,458.4 L1369.1,454.0 M1339.6,454.8 L1354.5,450.7 M1325.4,451.4 L1340.5,447.5 M1311.7,448.2 L1326.8,444.3 M1298.4,445.0 L1313.7,441.3 M1561.7,507.9 L1298.4,445.0 M1573.2,500.9 L1313.7,441.3" fill="none" stroke="#00005c" stroke-width="0.9"/>
<polygon points="1549.3,514.4 1282.4,448.1 1298.4,445.0 1561.7,507.9" fill="#0000a6" stroke="#0000a6" stroke-width="1" stroke-linejoin="round"/>
<path d="M1525.6,508.5 L1538.5,502.4 M1503.0,502.9 L1516.4,497.1 M1481.4,497.5 L1495.2,492.1 M1460.8,492.4 L1475.0,487.2 M1441.1,487.5 L1455.6,482.6 M1422.2,482.8 L1437.0,478.1 M1404.1,478.3 L1419.1,473.9 M1386.7,474.0 L1401.9,469.8 M1370.0,469.9 L1385.4,465.8 M1354.0,465.9 L1369.6,462.0 M1338.6,462.0 L1354.3,458.4 M1323.7,458.4 L1339.6,454.8 M1309.4,454.8 L1325.4,451.4 M1295.6,451.4 L1311.7,448.2 M1282.4,448.1 L1298.4,445.0 M1549.3,514.4 L1282.4,448.1 M1561.7,507.9 L1298.4,445.0" fill="none" stroke="#00005c" stroke-width="0.9"/>
<polygon points="1535.9,520.6 1265.4,450.7 1282.4,448.1 1549.3,514.4" fill="#0000a6" stroke="#0000a6" stroke-width="1" stroke-linejoin="round"/>
<path d="M1511.7,514.3 L1525.6,508.5 M1488.7,508.4 L1503.0,502.9 M1466.7,502.7 L1481.4,497.5 M1445.7,497.3 L1460.8,492.4 M1425.7,492.1 L1441.1,487.5 M1406.5,487.2 L1422.2,482.8 M1388.1,482.4 L1404.1,478.3 M1370.5,477.9 L1386.7,474.0 M1353.7,473.5 L1370.0,469.9 M1337.5,469.4 L1354.0,465.9 M1321.9,465.3 L1338.6,462.0 M1307.0,461.5 L1323.7,458.4 M1292.6,457.8 L1309.4,454.8 M1278.7,454.2 L1295.6,451.4 M1265.4,450.7 L1282.4,448.1 M1535.9,520.6 L1265.4,450.7 M1549.3,514.4 L1282.4,448.1" fill="none" stroke="#00005c" stroke-width="0.9"/>
<polygon points="1521.6,526.0 1247.5,452.7 1265.4,450.7 1535.9,520.6" fill="#0000a6" stroke="#0000a6" stroke-width="1" stroke-linejoin="round"/>
<path d="M1496.8,519.4 L1511.7,514.3 M1473.3,513.1 L1488.7,508.4 M1450.9,507.1 L1466.7,502.7 M1429.5,501.4 L1445.7,497.3 M1409.2,496.0 L1425.7,492.1 M1389.7,490.8 L1406.5,487.2 M1371.1,485.8 L1388.1,482.4 M1353.3,481.0 L1370.5,477.9 M1336.3,476.5 L1353.7,473.5 M1320.0,472.1 L1337.5,469.4 M1304.3,467.9 L1321.9,465.3 M1289.2,463.9 L1307.0,461.5 M1274.8,460.0 L1292.6,457.8 M1260.9,456.3 L1278.7,454.2 M1247.5,452.7 L1265.4,450.7 M1521.6,526.0 L1247.5,452.7 M1535.9,520.6 L1265.4,450.7" fill="none" stroke="#00005c" stroke-width="0.9"/>
<polygon points="1506.3,525.8 1480.9,518.9 1496.8,519.4 1521.6,526.0" fill="#0000cf" stroke="#000" stroke-opacity="0.85" stroke-width="0.9" stroke-linejoin="round"/>
<polygon points="1480.9,518.9 1456.8,512.3 1473.3,513.1 1496.8,519.4" fill="#0000cf" stroke="#000" stroke-opacity="0.85" stroke-width="0.9" stroke-linejoin="round"/>
<polygon points="1456.8,512.3 1434.0,506.1 1450.9,507.1 1473.3,513.1" fill="#0000cf" stroke="#000" stroke-opacity="0.85" stroke-width="0.9" stroke-linejoin="round"/>
<polygon points="1434.0,506.1 1412.2,500.2 1429.5,501.4 1450.9,507.1" fill="#0000cf" stroke="#000" stroke-opacity="0.85" stroke-width="0.9" stroke-linejoin="round"/>
<polygon points="1412.2,500.2 1391.5,494.6 1409.2,496.0 1429.5,501.4" fill="#0000cf" stroke="#000" stroke-opacity="0.85" stroke-width="0.9" stroke-linejoin="round"/>
<polygon points="1391.5,494.6 1371.8,489.3 1389.7,490.8 1409.2,496.0" fill="#0000cf" stroke="#000" stroke-opacity="0.85" stroke-width="0.9" stroke-linejoin="round"/>
<polygon points="1371.8,489.3 1352.9,484.1 1371.1,485.8 1389.7,490.8" fill="#0000cf" stroke="#000" stroke-opacity="0.85" stroke-width="0.9" stroke-linejoin="round"/>
<polygon points="1352.9,484.1 1334.9,479.3 1353.3,481.0 1371.1,485.8" fill="#0000cf" stroke="#000" stroke-opacity="0.85" stroke-width="0.9" stroke-linejoin="round"/>
<polygon points="1334.9,479.3 1317.7,474.6 1336.3,476.5 1353.3,481.0" fill="#0000cf" stroke="#000" stroke-opacity="0.85" stroke-width="0.9" stroke-linejoin="round"/>
<polygon points="1317.7,474.6 1301.3,470.1 1320.0,472.1 1336.3,476.5" fill="#0000cf" stroke="#000" stroke-opacity="0.85" stroke-width="0.9" stroke-linejoin="round"/>
<polygon points="1301.3,470.1 1285.5,465.8 1304.3,467.9 1320.0,472.1" fill="#0000cf" stroke="#000" stroke-opacity="0.85" stroke-width="0.9" stroke-linejoin="round"/>
<polygon points="1285.5,465.8 1270.3,461.7 1289.2,463.9 1304.3,467.9" fill="#0000cf" stroke="#000" stroke-opacity="0.85" stroke-width="0.9" stroke-linejoin="round"/>
<polygon points="1270.3,461.7 1255.8,457.8 1274.8,460.0 1289.2,463.9" fill="#0000cf" stroke="#000" stroke-opacity="0.85" stroke-width="0.9" stroke-linejoin="round"/>
<polygon points="1255.8,457.8 1241.9,454.0 1260.9,456.3 1274.8,460.0" fill="#0000cf" stroke="#000" stroke-opacity="0.85" stroke-width="0.9" stroke-linejoin="round"/>
<polygon points="1241.9,454.0 1228.4,450.3 1247.5,452.7 1260.9,456.3" fill="#0000cf" stroke="#000" stroke-opacity="0.85" stroke-width="0.9" stroke-linejoin="round"/>
<polygon points="1488.5,519.1 1462.6,512.2 1480.9,518.9 1506.3,525.8" fill="#0000ef" stroke="#000" stroke-opacity="0.85" stroke-width="0.9" stroke-linejoin="round"/>
<polygon points="1462.6,512.2 1438.1,505.6 1456.8,512.3 1480.9,518.9" fill="#0000ef" stroke="#000" stroke-opacity="0.85" stroke-width="0.9" stroke-linejoin="round"/>
<polygon points="1438.1,505.6 1414.9,499.5 1434.0,506.1 1456.8,512.3" fill="#0000ef" stroke="#000" stroke-opacity="0.85" stroke-width="0.9" stroke-linejoin="round"/>
<polygon points="1414.9,499.5 1392.8,493.6 1412.2,500.2 1434.0,506.1" fill="#0000ef" stroke="#000" stroke-opacity="0.85" stroke-width="0.9" stroke-linejoin="round"/>
<polygon points="1392.8,493.6 1371.9,488.0 1391.5,494.6 1412.2,500.2" fill="#0000ef" stroke="#000" stroke-opacity="0.85" stroke-width="0.9" stroke-linejoin="round"/>
<polygon points="1371.9,488.0 1352.0,482.7 1371.8,489.3 1391.5,494.6" fill="#0000ef" stroke="#000" stroke-opacity="0.85" stroke-width="0.9" stroke-linejoin="round"/>
<polygon points="1352.0,482.7 1333.0,477.7 1352.9,484.1 1371.8,489.3" fill="#0000ef" stroke="#000" stroke-opacity="0.85" stroke-width="0.9" stroke-linejoin="round"/>
<polygon points="1333.0,477.7 1314.9,472.9 1334.9,479.3 1352.9,484.1" fill="#0000ef" stroke="#000" stroke-opacity="0.85" stroke-width="0.9" stroke-linejoin="round"/>
<polygon points="1314.9,472.9 1297.7,468.3 1317.7,474.6 1334.9,479.3" fill="#0000ef" stroke="#000" stroke-opacity="0.85" stroke-width="0.9" stroke-linejoin="round"/>
<polygon points="1297.7,468.3 1281.2,464.0 1301.3,470.1 1317.7,474.6" fill="#0000ef" stroke="#000" stroke-opacity="0.85" stroke-width="0.9" stroke-linejoin="round"/>
<polygon points="1281.2,464.0 1265.4,459.8 1285.5,465.8 1301.3,470.1" fill="#0000ef" stroke="#000" stroke-opacity="0.85" stroke-width="0.9" stroke-linejoin="round"/>
<polygon points="1265.4,459.8 1250.3,455.8 1270.3,461.7 1285.5,465.8" fill="#0000ef" stroke="#000" stroke-opacity="0.85" stroke-width="0.9" stroke-linejoin="round"/>
<polygon points="1250.3,455.8 1235.8,452.0 1255.8,457.8 1270.3,461.7" fill="#0000ef" stroke="#000" stroke-opacity="0.85" stroke-width="0.9" stroke-linejoin="round"/>
<polygon points="1235.8,452.0 1221.9,448.3 1241.9,454.0 1255.8,457.8" fill="#0000ef" stroke="#000" stroke-opacity="0.85" stroke-width="0.9" stroke-linejoin="round"/>
<polygon points="1221.9,448.3 1208.6,444.8 1228.4,450.3 1241.9,454.0" fill="#0000ef" stroke="#000" stroke-opacity="0.85" stroke-width="0.9" stroke-linejoin="round"/>
<polygon points="1470.6,498.0 1444.1,491.5 1462.6,512.2 1488.5,519.1" fill="#0020ff" stroke="#000" stroke-opacity="0.85" stroke-width="0.9" stroke-linejoin="round"/>
<polygon points="1444.1,491.5 1419.2,485.3 1438.1,505.6 1462.6,512.2" fill="#0020ff" stroke="#000" stroke-opacity="0.85" stroke-width="0.9" stroke-linejoin="round"/>
<polygon points="1419.2,485.3 1395.6,479.5 1414.9,499.5 1438.1,505.6" fill="#0020ff" stroke="#000" stroke-opacity="0.85" stroke-width="0.9" stroke-linejoin="round"/>
<polygon points="1395.6,479.5 1373.3,474.0 1392.8,493.6 1414.9,499.5" fill="#0020ff" stroke="#000" stroke-opacity="0.85" stroke-width="0.9" stroke-linejoin="round"/>
<polygon points="1373.3,474.0 1352.1,468.9 1371.9,488.0 1392.8,493.6" fill="#0020ff" stroke="#000" stroke-opacity="0.85" stroke-width="0.9" stroke-linejoin="round"/>
<polygon points="1352.1,468.9 1332.0,463.9 1352.0,482.7 1371.9,488.0" fill="#0020ff" stroke="#000" stroke-opacity="0.85" stroke-width="0.9" stroke-linejoin="round"/>
<polygon points="1332.0,463.9 1313.0,459.3 1333.0,477.7 1352.0,482.7" fill="#0020ff" stroke="#000" stroke-opacity="0.85" stroke-width="0.9" stroke-linejoin="round"/>
<polygon points="1313.0,459.3 1294.8,454.9 1314.9,472.9 1333.0,477.7" fill="#0020ff" stroke="#000" stroke-opacity="0.85" stroke-width="0.9" stroke-linejoin="round"/>
<polygon points="1294.8,454.9 1277.5,450.7 1297.7,468.3 1314.9,472.9" fill="#0020ff" stroke="#000" stroke-opacity="0.85" stroke-width="0.9" stroke-linejoin="round"/>
<polygon points="1277.5,450.7 1261.1,446.7 1281.2,464.0 1297.7,468.3" fill="#0020ff" stroke="#000" stroke-opacity="0.85" stroke-width="0.9" stroke-linejoin="round"/>
<polygon points="1261.1,446.7 1245.3,442.9 1265.4,459.8 1281.2,464.0" fill="#0020ff" stroke="#000" stroke-opacity="0.85" stroke-width="0.9" stroke-linejoin="round"/>
<polygon points="1245.3,442.9 1230.3,439.2 1250.3,455.8 1265.4,459.8" fill="#0020ff" stroke="#000" stroke-opacity="0.85" stroke-width="0.9" stroke-linejoin="round"/>
<polygon points="1230.3,439.2 1215.9,435.8 1235.8,452.0 1250.3,455.8" fill="#0020ff" stroke="#000" stroke-opacity="0.85" stroke-width="0.9" stroke-linejoin="round"/>
<polygon points="1215.9,435.8 1202.2,432.5 1221.9,448.3 1235.8,452.0" fill="#0020ff" stroke="#000" stroke-opacity="0.85" stroke-width="0.9" stroke-linejoin="round"/>
<polygon points="1202.2,432.5 1189.0,429.3 1208.6,444.8 1221.9,448.3" fill="#0020ff" stroke="#000" stroke-opacity="0.85" stroke-width="0.9" stroke-linejoin="round"/>
<polygon points="1451.8,457.8 1424.4,452.1 1444.1,491.5 1470.6,498.0" fill="#008fff" stroke="#000" stroke-opacity="0.85" stroke-width="0.9" stroke-linejoin="round"/>
<polygon points="1424.4,452.1 1398.6,446.7 1419.2,485.3 1444.1,491.5" fill="#008fff" stroke="#000" stroke-opacity="0.85" stroke-width="0.9" stroke-linejoin="round"/>
<polygon points="1398.6,446.7 1374.3,441.7 1395.6,479.5 1419.2,485.3" fill="#008fff" stroke="#000" stroke-opacity="0.85" stroke-width="0.9" stroke-linejoin="round"/>
<polygon points="1374.3,441.7 1351.4,437.0 1373.3,474.0 1395.6,479.5" fill="#008fff" stroke="#000" stroke-opacity="0.85" stroke-width="0.9" stroke-linejoin="round"/>
<polygon points="1351.4,437.0 1329.7,432.5 1352.1,468.9 1373.3,474.0" fill="#008fff" stroke="#000" stroke-opacity="0.85" stroke-width="0.9" stroke-linejoin="round"/>
<polygon points="1329.7,432.5 1309.1,428.2 1332.0,463.9 1352.1,468.9" fill="#008fff" stroke="#000" stroke-opacity="0.85" stroke-width="0.9" stroke-linejoin="round"/>
<polygon points="1309.1,428.2 1289.6,424.2 1313.0,459.3 1332.0,463.9" fill="#008fff" stroke="#000" stroke-opacity="0.85" stroke-width="0.9" stroke-linejoin="round"/>
<polygon points="1289.6,424.2 1271.1,420.5 1294.8,454.9 1313.0,459.3" fill="#008fff" stroke="#000" stroke-opacity="0.85" stroke-width="0.9" stroke-linejoin="round"/>
<polygon points="1271.1,420.5 1253.5,416.9 1277.5,450.7 1294.8,454.9" fill="#008fff" stroke="#000" stroke-opacity="0.85" stroke-width="0.9" stroke-linejoin="round"/>
<polygon points="1253.5,416.9 1236.8,413.4 1261.1,446.7 1277.5,450.7" fill="#008fff" stroke="#000" stroke-opacity="0.85" stroke-width="0.9" stroke-linejoin="round"/>
<polygon points="1236.8,413.4 1220.8,410.2 1245.3,442.9 1261.1,446.7" fill="#008fff" stroke="#000" stroke-opacity="0.85" stroke-width="0.9" stroke-linejoin="round"/>
<polygon points="1220.8,410.2 1205.6,407.1 1230.3,439.2 1245.3,442.9" fill="#008fff" stroke="#000" stroke-opacity="0.85" stroke-width="0.9" stroke-linejoin="round"/>
<polygon points="1205.6,407.1 1191.0,404.2 1215.9,435.8 1230.3,439.2" fill="#008fff" stroke="#000" stroke-opacity="0.85" stroke-width="0.9" stroke-linejoin="round"/>
<polygon points="1191.0,404.2 1177.1,401.4 1202.2,432.5 1215.9,435.8" fill="#008fff" stroke="#000" stroke-opacity="0.85" stroke-width="0.9" stroke-linejoin="round"/>
<polygon points="1177.1,401.4 1163.8,398.7 1189.0,429.3 1202.2,432.5" fill="#008fff" stroke="#000" stroke-opacity="0.85" stroke-width="0.9" stroke-linejoin="round"/>
<polygon points="1431.0,384.7 1402.6,380.9 1424.4,452.1 1451.8,457.8" fill="#20ffdf" stroke="#000" stroke-opacity="0.85" stroke-width="0.9" stroke-linejoin="round"/>
<polygon points="1402.6,380.9 1376.0,377.4 1398.6,446.7 1424.4,452.1" fill="#20ffdf" stroke="#000" stroke-opacity="0.85" stroke-width="0.9" stroke-linejoin="round"/>
<polygon points="1376.0,377.4 1351.0,374.1 1374.3,441.7 1398.6,446.7" fill="#20ffdf" stroke="#000" stroke-opacity="0.85" stroke-width="0.9" stroke-linejoin="round"/>
<polygon points="1351.0,374.1 1327.4,371.0 1351.4,437.0 1374.3,441.7" fill="#20ffdf" stroke="#000" stroke-opacity="0.85" stroke-width="0.9" stroke-linejoin="round"/>
<polygon points="1327.4,371.0 1305.2,368.1 1329.7,432.5 1351.4,437.0" fill="#20ffdf" stroke="#000" stroke-opacity="0.85" stroke-width="0.9" stroke-linejoin="round"/>
<polygon points="1305.2,368.1 1284.3,365.3 1309.1,428.2 1329.7,432.5" fill="#20ffdf" stroke="#000" stroke-opacity="0.85" stroke-width="0.9" stroke-linejoin="round"/>
<polygon points="1284.3,365.3 1264.4,362.7 1289.6,424.2 1309.1,428.2" fill="#20ffdf" stroke="#000" stroke-opacity="0.85" stroke-width="0.9" stroke-linejoin="round"/>
<polygon points="1264.4,362.7 1245.6,360.3 1271.1,420.5 1289.6,424.2" fill="#20ffdf" stroke="#000" stroke-opacity="0.85" stroke-width="0.9" stroke-linejoin="round"/>
<polygon points="1245.6,360.3 1227.8,357.9 1253.5,416.9 1271.1,420.5" fill="#20ffdf" stroke="#000" stroke-opacity="0.85" stroke-width="0.9" stroke-linejoin="round"/>
<polygon points="1227.8,357.9 1210.8,355.7 1236.8,413.4 1253.5,416.9" fill="#20ffdf" stroke="#000" stroke-opacity="0.85" stroke-width="0.9" stroke-linejoin="round"/>
<polygon points="1210.8,355.7 1194.7,353.6 1220.8,410.2 1236.8,413.4" fill="#20ffdf" stroke="#000" stroke-opacity="0.85" stroke-width="0.9" stroke-linejoin="round"/>
<polygon points="1194.7,353.6 1179.4,351.6 1205.6,407.1 1220.8,410.2" fill="#20ffdf" stroke="#000" stroke-opacity="0.85" stroke-width="0.9" stroke-linejoin="round"/>
<polygon points="1179.4,351.6 1164.7,349.7 1191.0,404.2 1205.6,407.1" fill="#20ffdf" stroke="#000" stroke-opacity="0.85" stroke-width="0.9" stroke-linejoin="round"/>
<polygon points="1164.7,349.7 1150.8,347.9 1177.1,401.4 1191.0,404.2" fill="#20ffdf" stroke="#000" stroke-opacity="0.85" stroke-width="0.9" stroke-linejoin="round"/>
<polygon points="1150.8,347.9 1137.4,346.2 1163.8,398.7 1177.1,401.4" fill="#20ffdf" stroke="#000" stroke-opacity="0.85" stroke-width="0.9" stroke-linejoin="round"/>
<polygon points="1407.2,260.1 1377.7,260.3 1402.6,380.9 1431.0,384.7" fill="#ffdf00" stroke="#000" stroke-opacity="0.85" stroke-width="0.9" stroke-linejoin="round"/>
<polygon points="1377.7,260.3 1350.2,260.6 1376.0,377.4 1402.6,380.9" fill="#ffdf00" stroke="#000" stroke-opacity="0.85" stroke-width="0.9" stroke-linejoin="round"/>
<polygon points="1350.2,260.6 1324.4,260.8 1351.0,374.1 1376.0,377.4" fill="#ffdf00" stroke="#000" stroke-opacity="0.85" stroke-width="0.9" stroke-linejoin="round"/>
<polygon points="1324.4,260.8 1300.3,261.0 1327.4,371.0 1351.0,374.1" fill="#ffdf00" stroke="#000" stroke-opacity="0.85" stroke-width="0.9" stroke-linejoin="round"/>
<polygon points="1300.3,261.0 1277.6,261.2 1305.2,368.1 1327.4,371.0" fill="#ffdf00" stroke="#000" stroke-opacity="0.85" stroke-width="0.9" stroke-linejoin="round"/>
<polygon points="1277.6,261.2 1256.2,261.4 1284.3,365.3 1305.2,368.1" fill="#ffdf00" stroke="#000" stroke-opacity="0.85" stroke-width="0.9" stroke-linejoin="round"/>
<polygon points="1256.2,261.4 1236.1,261.6 1264.4,362.7 1284.3,365.3" fill="#ffdf00" stroke="#000" stroke-opacity="0.85" stroke-width="0.9" stroke-linejoin="round"/>
<polygon points="1236.1,261.6 1217.1,261.7 1245.6,360.3 1264.4,362.7" fill="#ffdf00" stroke="#000" stroke-opacity="0.85" stroke-width="0.9" stroke-linejoin="round"/>
<polygon points="1217.1,261.7 1199.1,261.9 1227.8,357.9 1245.6,360.3" fill="#ffdf00" stroke="#000" stroke-opacity="0.85" stroke-width="0.9" stroke-linejoin="round"/>
<polygon points="1199.1,261.9 1182.0,262.1 1210.8,355.7 1227.8,357.9" fill="#ffdf00" stroke="#000" stroke-opacity="0.85" stroke-width="0.9" stroke-linejoin="round"/>
<polygon points="1182.0,262.1 1165.8,262.2 1194.7,353.6 1210.8,355.7" fill="#ffdf00" stroke="#000" stroke-opacity="0.85" stroke-width="0.9" stroke-linejoin="round"/>
<polygon points="1165.8,262.2 1150.4,262.4 1179.4,351.6 1194.7,353.6" fill="#ffdf00" stroke="#000" stroke-opacity="0.85" stroke-width="0.9" stroke-linejoin="round"/>
<polygon points="1150.4,262.4 1135.8,262.5 1164.7,349.7 1179.4,351.6" fill="#ffdf00" stroke="#000" stroke-opacity="0.85" stroke-width="0.9" stroke-linejoin="round"/>
<polygon points="1135.8,262.5 1121.9,262.7 1150.8,347.9 1164.7,349.7" fill="#ffdf00" stroke="#000" stroke-opacity="0.85" stroke-width="0.9" stroke-linejoin="round"/>
<polygon points="1121.9,262.7 1108.6,262.8 1137.4,346.2 1150.8,347.9" fill="#ffdf00" stroke="#000" stroke-opacity="0.85" stroke-width="0.9" stroke-linejoin="round"/>
<polygon points="1380.1,62.2 1349.3,69.7 1377.7,260.3 1407.2,260.1" fill="#8a0000" stroke="#000" stroke-opacity="0.85" stroke-width="0.9" stroke-linejoin="round"/>
<polygon points="1349.3,69.7 1320.6,76.7 1350.2,260.6 1377.7,260.3" fill="#8a0000" stroke="#000" stroke-opacity="0.85" stroke-width="0.9" stroke-linejoin="round"/>
<polygon points="1320.6,76.7 1294.0,83.2 1324.4,260.8 1350.2,260.6" fill="#8a0000" stroke="#000" stroke-opacity="0.85" stroke-width="0.9" stroke-linejoin="round"/>
<polygon points="1294.0,83.2 1269.1,89.3 1300.3,261.0 1324.4,260.8" fill="#8a0000" stroke="#000" stroke-opacity="0.85" stroke-width="0.9" stroke-linejoin="round"/>
<polygon points="1269.1,89.3 1245.8,94.9 1277.6,261.2 1300.3,261.0" fill="#8a0000" stroke="#000" stroke-opacity="0.85" stroke-width="0.9" stroke-linejoin="round"/>
<polygon points="1245.8,94.9 1223.9,100.3 1256.2,261.4 1277.6,261.2" fill="#8a0000" stroke="#000" stroke-opacity="0.85" stroke-width="0.9" stroke-linejoin="round"/>
<polygon points="1223.9,100.3 1203.4,105.3 1236.1,261.6 1256.2,261.4" fill="#8a0000" stroke="#000" stroke-opacity="0.85" stroke-width="0.9" stroke-linejoin="round"/>
<polygon points="1203.4,105.3 1184.1,110.0 1217.1,261.7 1236.1,261.6" fill="#8a0000" stroke="#000" stroke-opacity="0.85" stroke-width="0.9" stroke-linejoin="round"/>
<polygon points="1184.1,110.0 1165.9,114.4 1199.1,261.9 1217.1,261.7" fill="#8a0000" stroke="#000" stroke-opacity="0.85" stroke-width="0.9" stroke-linejoin="round"/>
<polygon points="1165.9,114.4 1148.7,118.6 1182.0,262.1 1199.1,261.9" fill="#8a0000" stroke="#000" stroke-opacity="0.85" stroke-width="0.9" stroke-linejoin="round"/>
<polygon points="1148.7,118.6 1132.5,122.6 1165.8,262.2 1182.0,262.1" fill="#8a0000" stroke="#000" stroke-opacity="0.85" stroke-width="0.9" stroke-linejoin="round"/>
<polygon points="1132.5,122.6 1117.1,126.3 1150.4,262.4 1165.8,262.2" fill="#8a0000" stroke="#000" stroke-opacity="0.85" stroke-width="0.9" stroke-linejoin="round"/>
<polygon points="1117.1,126.3 1102.4,129.9 1135.8,262.5 1150.4,262.4" fill="#8a0000" stroke="#000" stroke-opacity="0.85" stroke-width="0.9" stroke-linejoin="round"/>
<polygon points="1102.4,129.9 1088.6,133.3 1121.9,262.7 1135.8,262.5" fill="#8a0000" stroke="#000" stroke-opacity="0.85" stroke-width="0.9" stroke-linejoin="round"/>
<polygon points="1088.6,133.3 1075.3,136.5 1108.6,262.8 1121.9,262.7" fill="#8a0000" stroke="#000" stroke-opacity="0.85" stroke-width="0.9" stroke-linejoin="round"/>
<linearGradient id="cbR" x1="0" y1="1" x2="0" y2="0">
<stop offset="0.000" stop-color="#0000ad"/>
<stop offset="0.125" stop-color="#0000ff"/>
<stop offset="0.375" stop-color="#00ffff"/>
<stop offset="0.625" stop-color="#ffff00"/>
<stop offset="0.875" stop-color="#ff0000"/>
<stop offset="1.000" stop-color="#800000"/>
</linearGradient>
<rect x="1666.2" y="39.5" width="26.2" height="620.1" fill="url(#cbR)" stroke="#222" stroke-width="1"/>
<line x1="1692.4" y1="71.9" x2="1704.9" y2="71.9" stroke="#222" stroke-width="1.3" />
<text transform="translate(1719.0 82.3) scale(0.965 1)" font-size="36">0.020</text>
<line x1="1692.4" y1="267.4" x2="1704.9" y2="267.4" stroke="#222" stroke-width="1.3" />
<text transform="translate(1719.0 278.2) scale(0.965 1)" font-size="36">0.015</text>
<line x1="1692.4" y1="462.9" x2="1704.9" y2="462.9" stroke="#222" stroke-width="1.3" />
<text transform="translate(1719.0 471.1) scale(0.965 1)" font-size="36">0.010</text>
<line x1="1692.4" y1="658.3" x2="1704.9" y2="658.3" stroke="#222" stroke-width="1.3" />
<text transform="translate(1719.0 671.2) scale(0.965 1)" font-size="36">0.005</text>
</g>
<line x1="1071.3" y1="509.5" x2="1062.4" y2="231.0" stroke="#000" stroke-width="4.3" />
<polygon points="1062.0,217.0 1069.8,233.8 1062.5,231.5 1055.3,234.2" fill="#000"/>
<line x1="1340.0" y1="641.5" x2="1102.7" y2="536.3" stroke="#000" stroke-width="4.3" />
<polygon points="1089.9,530.6 1108.4,530.9 1103.2,536.5 1102.5,544.1" fill="#000"/>
<line x1="1413.9" y1="639.4" x2="1575.3" y2="521.4" stroke="#000" stroke-width="4.3" />
<polygon points="1586.6,513.1 1577.2,529.0 1574.9,521.7 1568.6,517.3" fill="#000"/>
<text transform="translate(1042.4 384.0) scale(0.96 1) rotate(-90.00)" font-size="36"><tspan font-style="italic">R</tspan><tspan font-size="24" dy="8">p</tspan><tspan dy="-8"></tspan></text>
<text transform="translate(1097.2 589.6) scale(0.96 1) rotate(23.45)" font-size="36"><tspan font-style="italic">A</tspan><tspan font-size="24" dy="8" font-style="italic">3</tspan><tspan dy="-8"> (% mass)</tspan></text>
<text transform="translate(1471.0 667.8) scale(0.94 1) rotate(-36.30)" font-size="36"><tspan font-style="italic">A</tspan><tspan font-size="24" dy="8" font-style="italic">2</tspan><tspan dy="-8"> (% mass)</tspan></text>
<text x="1604.3" y="34.8" font-size="33.5" font-weight="bold">b)</text>
</svg></body></html>
